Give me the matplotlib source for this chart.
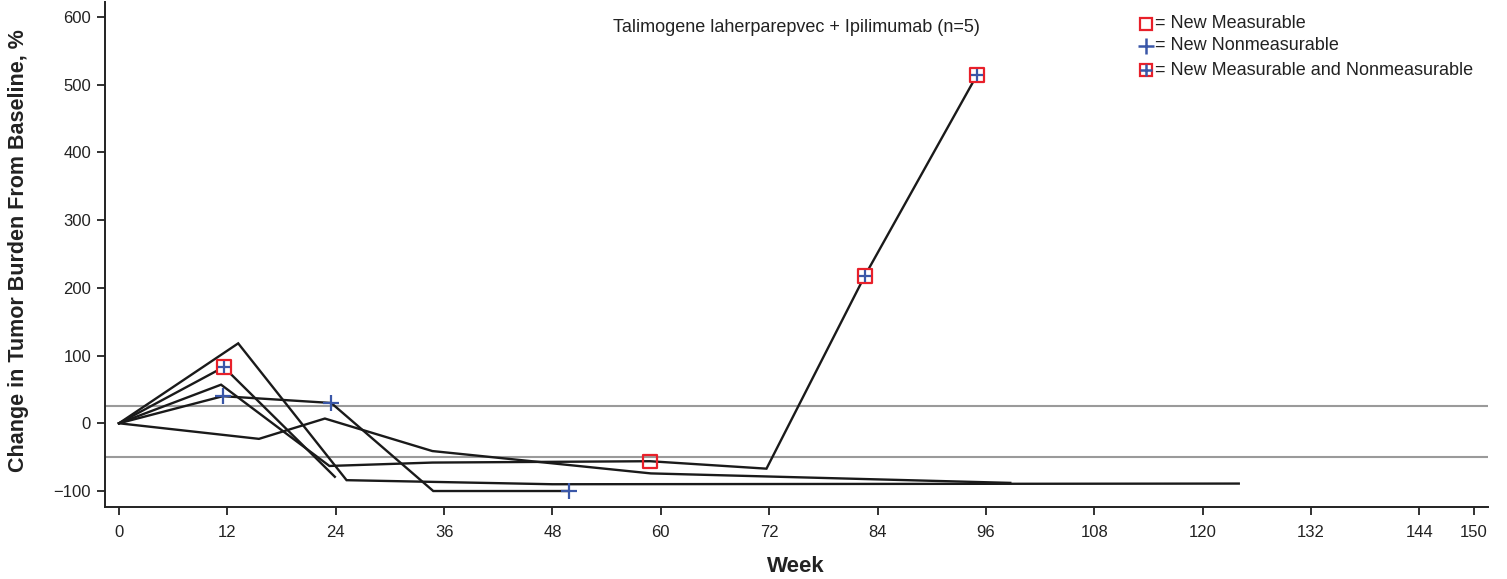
import matplotlib
matplotlib.use("Agg")
import matplotlib.pyplot as plt

plt.rcParams['font.family'] = ['Liberation Sans', 'DejaVu Sans']

# Patient trajectories (week, % change)
weeks_a = [0, 13.2, 25.2, 48, 124]
vals_a = [0, 118, -84, -90, -89]

weeks_b = [0, 11.6, 23.9]
vals_b = [0, 83, -79]

weeks_c = [0, 11.3, 23.3, 34.7, 58.8, 71.7, 82.6, 95]
vals_c = [0, 57, -63, -58, -56, -67, 218, 514]

weeks_d = [0, 11.5, 23.5, 34.8, 49.8]
vals_d = [0, 40, 30, -100, -100]

weeks_e = [0, 15.5, 22.8, 34.7, 58.9, 98.7]
vals_e = [0, -23, 7, -41, -74, -88]

# Markers
meas_weeks = [58.8]
meas_vals = [-56]
nonmeas_weeks = [11.5, 23.5, 49.8]
nonmeas_vals = [40, 30, -100]
both_weeks = [11.6, 82.6, 95]
both_vals = [83, 218, 514]

ref_lines = [25, -50]
x_ticks = [0, 12, 24, 36, 48, 60, 72, 84, 96, 108, 120, 132, 144, 150]
y_ticks = [-100, 0, 100, 200, 300, 400, 500, 600]

fig = plt.figure(figsize=(15.07, 5.79), dpi=100)
ax = fig.add_axes([105/1507, 1-507/579, (1488-105)/1507, (507-2)/579])

for y in ref_lines:
    ax.axhline(y, color='#9a9a9a', lw=1.5, zorder=1)

for w, v in [(weeks_a, vals_a), (weeks_b, vals_b), (weeks_c, vals_c),
             (weeks_d, vals_d), (weeks_e, vals_e)]:
    ax.plot(w, v, color='#1a1a1a', lw=1.7, zorder=2, solid_joinstyle='miter')

red = '#e8202a'
blue = '#3a57a8'
ax.scatter(meas_weeks, meas_vals, marker='s', s=90, facecolors='none',
           edgecolors=red, linewidths=1.6, zorder=4)
ax.scatter(nonmeas_weeks, nonmeas_vals, marker='+', s=120, color=blue,
           linewidths=1.6, zorder=4)
ax.scatter(both_weeks, both_vals, marker='s', s=90, facecolors='white',
           edgecolors=red, linewidths=1.6, zorder=4)
ax.scatter(both_weeks, both_vals, marker='+', s=85, color=blue,
           linewidths=1.6, zorder=5)

ax.set_xlim(-1.55, 151.6)
ax.set_ylim(-123.6, 622)
ax.set_xticks(x_ticks)
ax.set_yticks(y_ticks)
ax.set_yticklabels(['\u2212100' if t < 0 else str(t) for t in y_ticks])
ax.tick_params(direction='out', length=6, width=1.3, labelsize=12,
               colors='#222222')
ax.tick_params(axis='x', pad=7)
ax.tick_params(axis='y', pad=4)
for s in ['top', 'right']:
    ax.spines[s].set_visible(False)
for s in ['left', 'bottom']:
    ax.spines[s].set_linewidth(1.4)
    ax.spines[s].set_color('#222222')

ax.set_xlabel('Week', fontsize=16, fontweight='bold', color='#222222')
ax.set_ylabel('Change in Tumor Burden From Baseline, %', fontsize=15.5,
              fontweight='bold', color='#222222')
ax.xaxis.set_label_coords((796-105)/1383, (507-556)/505)
ax.yaxis.set_label_coords((29-105)/1383, (507-251)/505)

fig.text(796/1507, 1-27/579, 'Talimogene laherparepvec + Ipilimumab (n=5)',
         ha='center', va='center', fontsize=13, color='#222222')

# Legend drawn in figure coordinates
lx = 1146/1507
tx = 1155/1507
rows = [24, 46, 70]
labels = ['= New Measurable', '= New Nonmeasurable',
          '= New Measurable and Nonmeasurable']
for i, (r, lab) in enumerate(zip(rows, labels)):
    yy = 1 - r/579
    if i in (0, 2):
        fig.add_artist(plt.Line2D([lx], [yy], marker='s', markersize=9,
                                  markerfacecolor='white', markeredgecolor=red,
                                  markeredgewidth=1.6, linestyle='none'))
    if i in (1, 2):
        fig.add_artist(plt.Line2D([lx], [yy], marker='+',
                                  markersize=11 if i == 1 else 8,
                                  color=blue, markeredgewidth=1.8,
                                  linestyle='none'))
    fig.text(tx, yy, lab, ha='left', va='center', fontsize=13,
             color='#222222')

fig.savefig('out.png', dpi=100)
